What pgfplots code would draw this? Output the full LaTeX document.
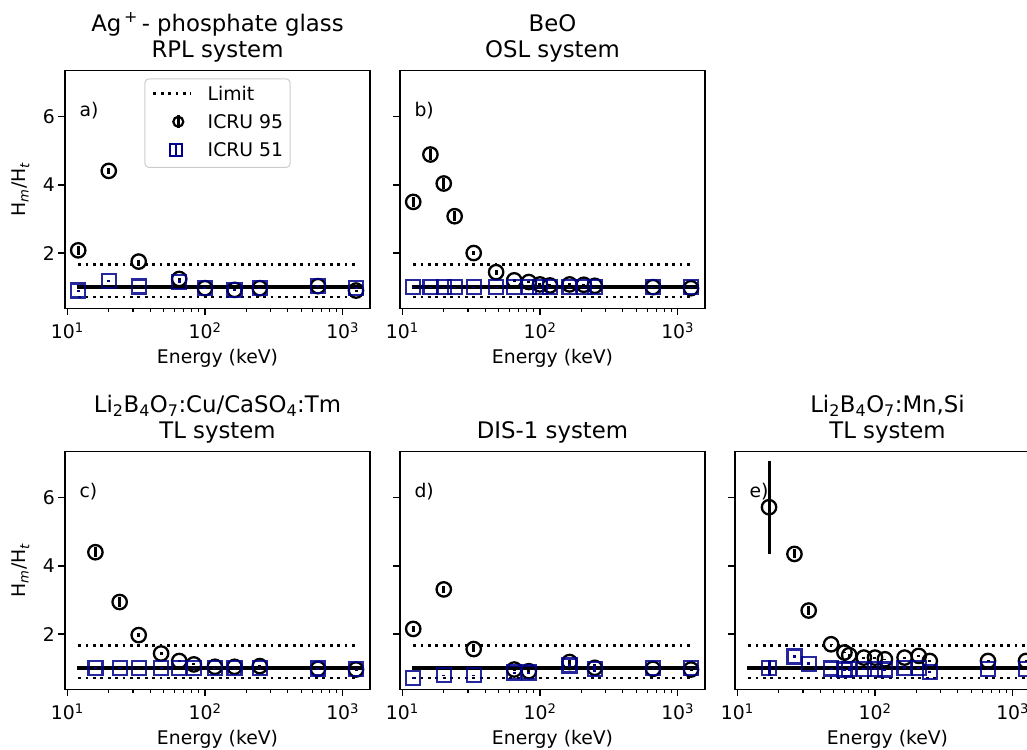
\documentclass[border=0pt]{standalone}
\usepackage{fontspec}
\setmainfont{DejaVu Sans}
\usepackage{pgfplots}
\pgfplotsset{compat=1.18}

\definecolor{icrublue}{rgb}{0,0,0.55}
\definecolor{leggray}{gray}{0.8}

\newcommand{\tfont}{\fontsize{18.8bp}{22.6bp}\selectfont}
\newcommand{\ttlfont}{\fontsize{22.8bp}{26bp}\selectfont\lineskiplimit=-50bp\lineskip=0bp}

\pgfplotsset{
  every axis/.append style={
    scale only axis, width=305bp, height=238bp,
    xmin=9.62, xmax=1580, ymin=0.38, ymax=7.36,
    xtick={10,100,1000},
    xticklabels={10\textsuperscript{1},10\textsuperscript{2},10\textsuperscript{3}},
    minor xtick={20,30,40,50,60,70,80,90,200,300,400,500,600,700,800,900},
    ytick={2,4,6},
    tick pos=left, tick align=outside,
    major tick length=6.65bp, minor tick length=3.8bp,
    major tick style={black, line width=1.5bp},
    minor tick style={black, line width=1.15bp},
    axis line style={line width=1.5bp},
    tick label style={font=\tfont},
    xticklabel style={yshift=-4.5bp},
    xlabel={Energy (keV)},
    every axis x label/.style={at={(axis description cs:0.5,-0.232)}, anchor=base, font=\tfont, inner sep=0pt},
    every axis y label/.style={at={(axis description cs:-0.128,0.5)}, rotate=90, anchor=base, font=\tfont, inner sep=0pt},
    every axis title/.style={at={(axis description cs:0.5,1)}, anchor=south, yshift=8bp, font=\ttlfont, align=center, inner sep=0pt},
  },
  /pgf/number format/assume math mode=true,
}

\newcommand{\plabel}[1]{\node[anchor=west, font=\tfont, inner sep=0pt] at (axis description cs:0.047,0.83) {#1};}

\tikzset{
  limitline/.style={black, line width=2.8bp, dash pattern=on 2.8bp off 4.6bp},
  oneline/.style={black, line width=3.8bp},
  circA/.style={only marks, mark=o, mark size=7.2bp, black, mark options={line width=2.3bp, black}},
  sqB/.style={only marks, mark=square, mark size=7bp, icrublue, mark options={line width=2.3bp, icrublue, draw opacity=0.85}},
}

\begin{document}
\begin{tikzpicture}
\path[use as bounding box] (0,0) rectangle (1027bp,750bp);
\clip (0,0) rectangle (1027bp,750bp);

% ---------------- a) ----------------
\begin{semilogxaxis}[at={(65bp,441.7bp)}, anchor=south west,
  title={Ag\textsuperscript{\,+}\,- phosphate glass\\RPL system},
  ylabel={H\textsubscript{\textit{m}}/H\textsubscript{\textit{t}}},
  legend cell align=left,
  legend style={at={(0.5,0.966)}, anchor=north,
    draw=leggray, line width=1bp, rounded corners=4bp, fill=white,
    inner xsep=7bp, inner ysep=2bp, column sep=0bp, row sep=0bp,
    cells={anchor=base west},
    nodes={inner sep=0pt, text height=19.5bp, text depth=8.7bp, font=\tfont}},
]
\addplot[limitline, legend image code/.code={
   \draw[sharp corners, black, line width=2.8bp, dash pattern=on 2.8bp off 4.6bp] (0bp,6.85bp) -- (38bp,6.85bp);
   \path (53bp,6.85bp);}]
  coordinates {(12,1.67) (1250,1.67)};
\addlegendentry{Limit}
\addplot[limitline, forget plot] coordinates {(12,0.71) (1250,0.71)};
\addplot[oneline, forget plot] coordinates {(11.7,1) (1400,1)};
\addplot[circA, legend image code/.code={
   \draw[black, line width=2.2bp] (25bp,6.85bp) circle (5bp);
   \draw[sharp corners, black, line width=2.6bp] (25bp,0.5bp) -- (25bp,13.2bp);
   \path (0bp,6.85bp) (53bp,6.85bp);},
   error bars/.cd, y dir=both, y explicit, error mark=none, error bar style={line width=3bp, black}]
  coordinates {
  (12,2.08) +- (0,0.13) (20,4.41) +- (0,0.08) (33,1.75) +- (0,0.06)
  (65,1.24) +- (0,0.04) (100,0.97) +- (0,0.02) (164,0.92) +- (0,0.02)
  (250,0.97) +- (0,0.02) (662,1.03) +- (0,0.02) (1250,0.90) +- (0,0.02)};
\addlegendentry{ICRU 95}
\addplot[sqB, legend image code/.code={
   \draw[sharp corners, icrublue, line width=2bp] (16.5bp,0.85bp) rectangle (28.5bp,12.85bp);
   \draw[sharp corners, icrublue, line width=2.4bp] (22.5bp,0.85bp) -- (22.5bp,12.85bp);
   \path (0bp,6.85bp) (53bp,6.85bp);},
   error bars/.cd, y dir=both, y explicit, error mark=none, error bar style={line width=3bp, icrublue}]
  coordinates {
  (12,0.90) +- (0,0.03) (20,1.19) +- (0,0.02) (33,1.02) +- (0,0.01)
  (65,1.16) +- (0,0.04) (100,0.97) +- (0,0.02) (164,0.92) +- (0,0.02)
  (250,0.97) +- (0,0.01) (662,1.04) +- (0,0.01) (1250,0.97) +- (0,0.03)};
\addlegendentry{ICRU 51}
\plabel{a)}
\end{semilogxaxis}

% ---------------- b) ----------------
\begin{semilogxaxis}[at={(400bp,441.7bp)}, anchor=south west,
  title={BeO\\OSL system}, yticklabels={}]
\addplot[limitline] coordinates {(12,1.67) (1250,1.67)};
\addplot[limitline] coordinates {(12,0.71) (1250,0.71)};
\addplot[oneline] coordinates {(11.7,1) (1400,1)};
\addplot[circA, error bars/.cd, y dir=both, y explicit, error mark=none, error bar style={line width=3bp, black}] coordinates {
  (12,3.50) +- (0,0.15) (16,4.89) +- (0,0.17) (20,4.04) +- (0,0.17)
  (24,3.08) +- (0,0.14) (33,2.00) +- (0,0.07) (48,1.44) +- (0,0.07)
  (65,1.20) +- (0,0.05) (83,1.15) +- (0,0.03) (100,1.08) +- (0,0.03)
  (118,1.05) +- (0,0.03) (164,1.08) +- (0,0.03) (208,1.07) +- (0,0.03)
  (250,1.04) +- (0,0.03) (662,1.00) +- (0,0.01) (1250,0.97) +- (0,0.01)};
\addplot[sqB, error bars/.cd, y dir=both, y explicit, error mark=none, error bar style={line width=3bp, icrublue}] coordinates {
  (12,1.00) +- (0,0.01) (16,1.00) +- (0,0.01) (20,1.00) +- (0,0.01)
  (24,1.00) +- (0,0.01) (33,1.00) +- (0,0.01) (48,1.00) +- (0,0.01)
  (65,1.00) +- (0,0.01) (83,1.00) +- (0,0.01) (100,1.00) +- (0,0.01)
  (118,1.00) +- (0,0.01) (164,1.00) +- (0,0.01) (208,1.00) +- (0,0.01)
  (250,1.00) +- (0,0.01) (662,1.00) +- (0,0.01) (1250,1.00) +- (0,0.01)};
\plabel{b)}
\end{semilogxaxis}

% ---------------- c) ----------------
\begin{semilogxaxis}[at={(65bp,60.7bp)}, anchor=south west,
  title={Li\textsubscript{2}B\textsubscript{4}O\textsubscript{7}:Cu/CaSO\textsubscript{4}:Tm\\TL system},
  ylabel={H\textsubscript{\textit{m}}/H\textsubscript{\textit{t}}}]
\addplot[limitline] coordinates {(12,1.67) (1250,1.67)};
\addplot[limitline] coordinates {(12,0.71) (1250,0.71)};
\addplot[oneline] coordinates {(11.7,1) (1400,1)};
\addplot[circA, error bars/.cd, y dir=both, y explicit, error mark=none, error bar style={line width=3bp, black}] coordinates {
  (16,4.40) +- (0,0.15) (24,2.94) +- (0,0.15) (33,1.97) +- (0,0.05)
  (48,1.43) +- (0,0.05) (65,1.21) +- (0,0.03) (83,1.11) +- (0,0.03)
  (118,1.04) +- (0,0.02) (164,1.04) +- (0,0.02) (250,1.06) +- (0,0.02)
  (662,0.98) +- (0,0.01) (1250,0.96) +- (0,0.02)};
\addplot[sqB, error bars/.cd, y dir=both, y explicit, error mark=none, error bar style={line width=3bp, icrublue}] coordinates {
  (16,1.01) +- (0,0.01) (24,1.01) +- (0,0.01) (33,1.00) +- (0,0.01)
  (48,1.01) +- (0,0.01) (65,1.00) +- (0,0.01) (83,1.00) +- (0,0.01)
  (118,1.00) +- (0,0.01) (164,1.00) +- (0,0.01) (250,1.00) +- (0,0.01)
  (662,0.99) +- (0,0.01) (1250,0.97) +- (0,0.01)};
\plabel{c)}
\end{semilogxaxis}

% ---------------- d) ----------------
\begin{semilogxaxis}[at={(400bp,60.7bp)}, anchor=south west,
  title={DIS-1 system}, yticklabels={}]
\addplot[limitline] coordinates {(12,1.67) (1250,1.67)};
\addplot[limitline] coordinates {(12,0.71) (1250,0.71)};
\addplot[oneline] coordinates {(11.7,1) (1400,1)};
\addplot[circA, error bars/.cd, y dir=both, y explicit, error mark=none, error bar style={line width=3bp, black}] coordinates {
  (12,2.15) +- (0,0.10) (20,3.31) +- (0,0.10) (33,1.56) +- (0,0.08)
  (65,0.96) +- (0,0.01) (83,0.91) +- (0,0.03) (164,1.18) +- (0,0.05)
  (250,1.01) +- (0,0.10) (662,0.98) +- (0,0.01) (1250,0.96) +- (0,0.02)};
\addplot[sqB, error bars/.cd, y dir=both, y explicit, error mark=none, error bar style={line width=3bp, icrublue}] coordinates {
  (12,0.71) +- (0,0.02) (20,0.80) +- (0,0.01) (33,0.79) +- (0,0.02)
  (65,0.87) +- (0,0.01) (83,0.87) +- (0,0.02) (164,1.08) +- (0,0.04)
  (250,0.98) +- (0,0.10) (662,1.00) +- (0,0.01) (1250,1.00) +- (0,0.01)};
\plabel{d)}
\end{semilogxaxis}

% ---------------- e) ----------------
\begin{semilogxaxis}[at={(735bp,60.7bp)}, anchor=south west,
  title={Li\textsubscript{2}B\textsubscript{4}O\textsubscript{7}:Mn,Si\\TL system}, yticklabels={}]
\addplot[limitline] coordinates {(12,1.67) (1250,1.67)};
\addplot[limitline] coordinates {(12,0.71) (1250,0.71)};
\addplot[oneline] coordinates {(11.7,1) (1400,1)};
\addplot[circA, error bars/.cd, y dir=both, y explicit, error mark=none, error bar style={line width=3bp, black}] coordinates {
  (17,5.72) +- (0,1.36) (26,4.35) +- (0,0.13) (33,2.69) +- (0,0.12)
  (48,1.70) +- (0,0.02) (60,1.46) +- (0,0.02) (65,1.38) +- (0,0.04)
  (83,1.31) +- (0,0.02) (100,1.31) +- (0,0.02) (118,1.26) +- (0,0.02)
  (164,1.31) +- (0,0.02) (208,1.36) +- (0,0.02) (250,1.21) +- (0,0.02)
  (662,1.21) +- (0,0.03) (1250,1.21) +- (0,0.03)};
\addplot[sqB, error bars/.cd, y dir=both, y explicit, error mark=none, error bar style={line width=3bp, icrublue}] coordinates {
  (17,1.01) +- (0,0.24) (26,1.34) +- (0,0.05) (33,1.13) +- (0,0.05)
  (48,0.99) +- (0,0.01) (60,0.96) +- (0,0.02) (65,0.98) +- (0,0.05)
  (83,0.98) +- (0,0.02) (100,0.98) +- (0,0.02) (118,0.96) +- (0,0.02)
  (164,1.01) +- (0,0.04) (208,1.01) +- (0,0.02) (250,0.89) +- (0,0.04)
  (662,0.98) +- (0,0.04) (1250,0.98) +- (0,0.04)};
\plabel{e)}
\end{semilogxaxis}
\end{tikzpicture}
\end{document}
